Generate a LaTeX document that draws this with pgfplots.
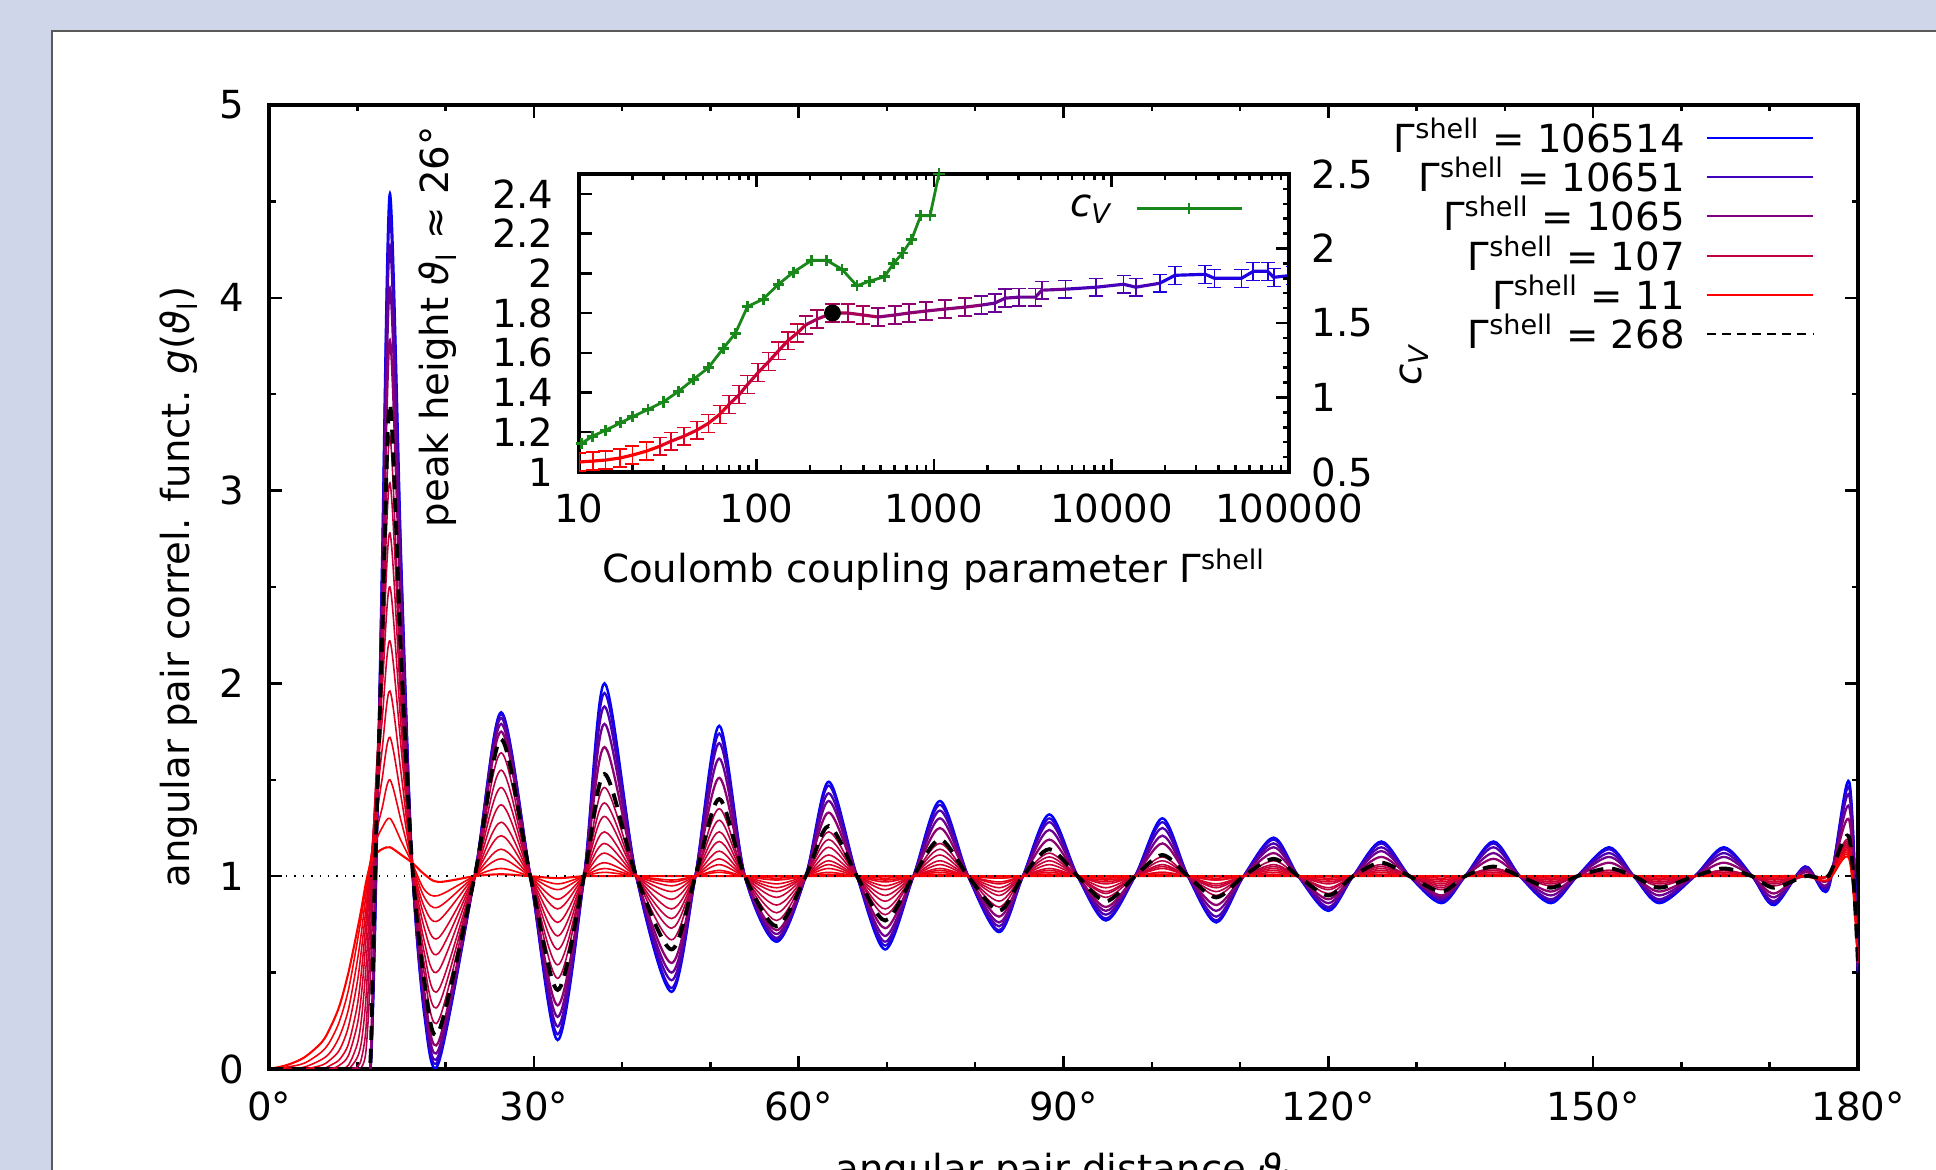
\documentclass[border=0pt]{standalone}
\usepackage{pgfplots}
\pgfplotsset{compat=1.18}
\usepackage{pgfplotstable}
\usepackage{fontspec}
\setmainfont{DejaVu Sans}
\definecolor{bgc}{RGB}{208,214,234}
\definecolor{panelc}{RGB}{90,90,90}
\definecolor{cvgreen}{RGB}{25,135,25}

\pgfplotstableread{
x     L1   L2   L3   L4   L5   L6   L7   L8   L9   L10  C1   C2   C3   C4   U    B
0     0    0    0    0    0    0    0    0    0    0    0    0    0    0    0    0
2     0.02 0.01 0    0    0    0    0    0    0    0    0    0    0    0    0    0
4     0.06 0.03 0.01 0    0    0    0    0    0    0    0    0    0    0    0    0
6     0.14 0.09 0.05 0.02 0    0    0    0    0    0    0    0    0    0    0    0
7     0.22 0.15 0.09 0.05 0.02 0    0    0    0    0    0    0    0    0    0    0
8     0.33 0.25 0.17 0.10 0.05 0.02 0    0    0    0    0    0    0    0    0    0
9     0.50 0.41 0.31 0.22 0.13 0.07 0.02 0    0    0    0    0    0    0    0    0
10    0.72 0.66 0.56 0.45 0.33 0.23 0.13 0.06 0.01 0    0    0    0    0    0    0
10.5  0.84 0.80 0.72 0.63 0.52 0.40 0.27 0.15 0.06 0.01 0    0    0    0    0    0
11    0.97 0.96 0.91 0.84 0.77 0.68 0.54 0.38 0.22 0.10 0    0    0    0    0    0
11.5  1.06 1.08 1.08 1.07 1.05 1.02 0.94 0.85 0.69 0.50 0.04 0.02 0.01 0    0    0.05
12    1.11 1.17 1.20 1.25 1.30 1.35 1.38 1.40 1.35 1.20 0.91 0.84 0.78 0.73 0.70 1.00
12.8  1.14 1.25 1.35 1.50 1.65 1.80 1.95 2.05 2.15 2.20 2.32 2.42 2.50 2.56 2.60 2.20
13.7  1.15 1.30 1.50 1.72 1.96 2.22 2.50 2.78 3.04 3.28 3.78 4.05 4.27 4.43 4.54 3.45
15    1.11 1.18 1.28 1.40 1.52 1.65 1.75 1.85 1.95 2.00 2.25 2.38 2.48 2.55 2.60 2.10
16.2  1.07 1.07 1.07 1.07 1.07 1.07 1.07 1.07 1.07 1.07 1.07 1.07 1.07 1.07 1.07 1.07
17.6  1.01 0.93 0.89 0.84 0.79 0.73 0.66 0.60 0.54 0.49 0.40 0.36 0.32 0.30 0.28 0.45
19.2  0.97 0.90 0.84 0.77 0.68 0.60 0.51 0.41 0.33 0.25 0.14 0.10 0.07 0.05 0.03 0.19
23.3  1    1    1    1    1    1    1    1    1    1    1    1    1    1    1    1
26.3  1.01 1.04 1.09 1.14 1.21 1.28 1.37 1.46 1.55 1.64 1.75 1.79 1.82 1.84 1.85 1.71
29.6  1    1    1    1    1    1    1    1    1    1    1    1    1    1    1    1
32.7  0.99 0.96 0.93 0.88 0.83 0.76 0.69 0.62 0.54 0.47 0.33 0.27 0.22 0.18 0.15 0.41
35.7  1    1    1    1    1    1    1    1    1    1    1    1    1    1    1    1
38.0  1    1.02 1.04 1.07 1.12 1.17 1.23 1.31 1.38 1.46 1.67 1.79 1.88 1.95 2.00 1.53
41.6  1    1    1    1    1    1    1    1    1    1    1    1    1    1    1    1
45.6  1    0.98 0.97 0.95 0.92 0.88 0.83 0.78 0.73 0.67 0.55 0.50 0.46 0.42 0.40 0.62
48.3  1    1    1    1    1    1    1    1    1    1    1    1    1    1    1    1
51.0  1    1.02 1.03 1.06 1.09 1.13 1.18 1.23 1.29 1.35 1.51 1.61 1.69 1.74 1.78 1.40
53.9  1    1    1    1    1    1    1    1    1    1    1    1    1    1    1    1
57.5  1    0.99 0.98 0.96 0.94 0.92 0.89 0.85 0.81 0.77 0.72 0.70 0.68 0.67 0.66 0.74
60.8  1    1    1    1    1    1    1    1    1    1    1    1    1    1    1    1
63.4  1    1.01 1.02 1.04 1.06 1.08 1.11 1.15 1.19 1.23 1.33 1.39 1.43 1.47 1.49 1.26
66.6  1    1    1    1    1    1    1    1    1    1    1    1    1    1    1    1
69.8  1    0.99 0.98 0.97 0.95 0.93 0.90 0.87 0.83 0.80 0.73 0.69 0.66 0.64 0.62 0.77
73.0  1    1    1    1    1    1    1    1    1    1    1    1    1    1    1    1
76.0  1    1.01 1.02 1.03 1.04 1.06 1.08 1.11 1.14 1.17 1.25 1.30 1.34 1.37 1.39 1.19
79.2  1    1    1    1    1    1    1    1    1    1    1    1    1    1    1    1
82.7  1    0.99 0.99 0.97 0.96 0.94 0.92 0.90 0.87 0.84 0.79 0.76 0.74 0.72 0.71 0.82
85.4  1    1    1    1    1    1    1    1    1    1    1    1    1    1    1    1
88.4  1    1.01 1.01 1.02 1.03 1.04 1.06 1.08 1.10 1.12 1.19 1.24 1.28 1.30 1.32 1.14
91.6  1    1    1    1    1    1    1    1    1    1    1    1    1    1    1    1
94.8  1    0.99 0.99 0.98 0.97 0.96 0.94 0.92 0.91 0.89 0.84 0.82 0.80 0.78 0.77 0.87
98.1  1    1    1    1    1    1    1    1    1    1    1    1    1    1    1    1
101.2 1    1.01 1.01 1.02 1.02 1.04 1.05 1.06 1.08 1.10 1.17 1.21 1.25 1.28 1.30 1.11
104.1 1    1    1    1    1    1    1    1    1    1    1    1    1    1    1    1
107.3 1    1    0.99 0.98 0.98 0.96 0.95 0.94 0.92 0.90 0.85 0.82 0.79 0.77 0.76 0.89
110.4 1    1    1    1    1    1    1    1    1    1    1    1    1    1    1    1
113.8 1    1    1    1.01 1.02 1.03 1.04 1.05 1.06 1.08 1.12 1.15 1.17 1.19 1.20 1.09
116.6 1    1    1    1    1    1    1    1    1    1    1    1    1    1    1    1
120.0 1    1    1    0.99 0.98 0.97 0.96 0.94 0.93 0.91 0.88 0.86 0.84 0.83 0.82 0.90
122.8 1    1    1    1    1    1    1    1    1    1    1    1    1    1    1    1
126.0 1    1    1    1.01 1.02 1.02 1.03 1.04 1.05 1.06 1.10 1.13 1.15 1.17 1.18 1.07
129.2 1    1    1    1    1    1    1    1    1    1    1    1    1    1    1    1
132.8 1    1    1    0.99 0.98 0.97 0.96 0.95 0.94 0.93 0.90 0.89 0.88 0.87 0.86 0.92
135.5 1    1    1    1    1    1    1    1    1    1    1    1    1    1    1    1
138.7 1    1    1    1.01 1.01 1.02 1.02 1.03 1.04 1.04 1.09 1.12 1.15 1.17 1.18 1.05
141.7 1    1    1    1    1    1    1    1    1    1    1    1    1    1    1    1
145.2 1    1    1    0.99 0.99 0.98 0.97 0.97 0.96 0.95 0.92 0.90 0.88 0.87 0.86 0.94
148.2 1    1    1    1    1    1    1    1    1    1    1    1    1    1    1    1
151.8 1    1    1    1.01 1.01 1.01 1.02 1.02 1.03 1.03 1.07 1.10 1.12 1.14 1.15 1.04
154.6 1    1    1    1    1    1    1    1    1    1    1    1    1    1    1    1
157.5 1    1    1    0.99 0.99 0.98 0.97 0.97 0.96 0.95 0.92 0.90 0.88 0.87 0.86 0.94
161.5 1    1    1    1    1    1    1    1    1    1    1    1    1    1    1    1
164.8 1    1    1    1.01 1.01 1.01 1.02 1.02 1.03 1.03 1.07 1.10 1.12 1.14 1.15 1.04
168.0 1    1    1    1    1    1    1    1    1    1    1    1    1    1    1    1
170.5 1    1    1    0.99 0.99 0.98 0.97 0.97 0.96 0.95 0.91 0.89 0.87 0.86 0.85 0.94
174.0 1    1    1    1    1    1    1    1    1    1    1.02 1.03 1.04 1.05 1.05 1.00
176.6 0.98 1    1    1    1    1    1    1    1    1    0.98 0.96 0.95 0.94 0.93 1.00
179.0 1.09 1.10 1.11 1.12 1.13 1.14 1.15 1.16 1.17 1.18 1.29 1.36 1.42 1.46 1.49 1.20
180   0.55 0.55 0.55 0.55 0.55 0.55 0.55 0.55 0.55 0.55 0.53 0.52 0.51 0.50 0.50 0.54
}\gdata

\pgfplotsset{
  fam/.style={smooth, line width=0.45pt, forget plot},
  cry/.style={smooth, line width=0.65pt, forget plot},
  seg/.style={line width=0.9pt, forget plot,
     error bars/y dir=both, error bars/y fixed=0.045,
     error bars/error bar style={line width=0.5pt}},
}

\begin{document}
\begin{tikzpicture}[font=\fontsize{11}{13}\selectfont]
\path[use as bounding box] (0,0) rectangle (193.6mm,117mm);
\clip (0,0) rectangle (193.6mm,117mm);
\fill[bgc] (0,0) rectangle (193.6mm,117mm);
\fill[white] (5.2mm,-5mm) rectangle (200mm,113.9mm);
\draw[panelc, line width=0.25mm] (5.2mm,-5mm) -- (5.2mm,113.9mm) -- (200mm,113.9mm);

% ---------------- main axis ----------------
\begin{axis}[
  at={(26.9mm,10.1mm)}, anchor=south west,
  scale only axis, width=158.9mm, height=96.4mm,
  font=\fontsize{11}{13}\selectfont,
  xmin=0, xmax=180, ymin=0, ymax=5,
  xtick={0,30,60,90,120,150,180},
  xticklabels={0°,30°,60°,90°,120°,150°,180°},
  minor x tick num=2,
  ytick={0,1,2,3,4,5}, minor y tick num=1,
  /pgf/number format/assume math mode=true,
  tick align=inside, major tick length=1.3mm, minor tick length=0.65mm,
  axis line style={line width=0.9pt},
  every tick/.append style={black, line width=0.7pt},
  tick label style={font=\fontsize{11}{13}\selectfont},
  xticklabel style={yshift=-1mm},
  yticklabel style={xshift=-1.2mm},
  xlabel={angular pair distance \textit{ϑ}\textsubscript{l}},
  xlabel style={at={(axis description cs:0.5,0)}, anchor=base, yshift=-11.4mm},
  ylabel={angular pair correl. funct. \textit{g}(\textit{ϑ}\textsubscript{l})},
  ylabel style={at={(axis description cs:0,0.5)}, anchor=center, yshift=9mm},
  legend style={draw=none, fill=none, at={(0.9793,0.9947)}, anchor=north east,
     font=\fontsize{11}{13}\selectfont, row sep=-0.05mm, column sep=1.4mm,
     nodes={inner ysep=0pt}},
  legend cell align=right, legend plot pos=right,
  legend image code/.code={\draw[#1] (0mm,0mm) -- (10.6mm,0mm);},
]
\addlegendimage{blue, line width=0.6pt}
\addlegendentry{Γ\textsuperscript{shell} = 106514}
\addlegendimage{blue!75!red, line width=0.6pt}
\addlegendentry{Γ\textsuperscript{shell} = 10651}
\addlegendimage{blue!50!red, line width=0.6pt}
\addlegendentry{Γ\textsuperscript{shell} = 1065}
\addlegendimage{blue!25!red, line width=0.6pt}
\addlegendentry{Γ\textsuperscript{shell} = 107}
\addlegendimage{red, line width=0.6pt}
\addlegendentry{Γ\textsuperscript{shell} = 11}
\addlegendimage{black, line width=0.6pt, dash pattern=on 2.5pt off 1.8pt}
\addlegendentry{Γ\textsuperscript{shell} = 268}

\addplot[cry, color=blue, line width=0.7pt] table[x=x, y=U] {\gdata};
\addplot[cry, color=blue!84!red] table[x=x, y=C4] {\gdata};
\addplot[cry, color=blue!70!red] table[x=x, y=C3] {\gdata};
\addplot[cry, color=blue!57!red] table[x=x, y=C2] {\gdata};
\addplot[cry, color=blue!44!red] table[x=x, y=C1] {\gdata};
\addplot[fam, color=blue!30!red] table[x=x, y=L10] {\gdata};
\addplot[fam, color=blue!27!red] table[x=x, y=L9] {\gdata};
\addplot[fam, color=blue!23!red] table[x=x, y=L8] {\gdata};
\addplot[fam, color=blue!20!red] table[x=x, y=L7] {\gdata};
\addplot[fam, color=blue!17!red] table[x=x, y=L6] {\gdata};
\addplot[fam, color=blue!13!red] table[x=x, y=L5] {\gdata};
\addplot[fam, color=blue!10!red] table[x=x, y=L4] {\gdata};
\addplot[fam, color=blue!7!red] table[x=x, y=L3] {\gdata};
\addplot[fam, color=blue!3!red] table[x=x, y=L2] {\gdata};
\addplot[fam, color=red, line width=0.6pt] table[x=x, y=L1] {\gdata};
\addplot[black, dotted, line width=0.4pt, forget plot] coordinates {(0,1) (180,1)};
\addplot[smooth, black, line width=1.1pt, dash pattern=on 4pt off 2.5pt, forget plot] table[x=x, y=B] {\gdata};
\end{axis}

% ---------------- inset: peak height ----------------
\begin{axis}[
  at={(57.9mm,69.8mm)}, anchor=south west,
  scale only axis, width=71mm, height=29.8mm,
  font=\fontsize{11}{13}\selectfont,
  xmode=log, xmin=10, xmax=100000, ymin=1, ymax=2.5,
  xtick={10,100,1000,10000,100000},
  xticklabels={10,100,1000,10000,100000},
  minor xtick={20,30,40,50,60,70,80,90,200,300,400,500,600,700,800,900,2000,3000,4000,5000,6000,7000,8000,9000,20000,30000,40000,50000,60000,70000,80000,90000},
  ytick={1,1.2,1.4,1.6,1.8,2,2.2,2.4},
  yticklabels={1,1.2,1.4,1.6,1.8,2,2.2,2.4},
  ytick pos=left,
  tick align=inside, major tick length=1.3mm, minor tick length=0.65mm,
  axis line style={line width=0.9pt},
  every tick/.append style={black, line width=0.7pt},
  tick label style={font=\fontsize{11}{13}\selectfont},
  xticklabel style={yshift=-0.9mm},
  yticklabel style={xshift=-1.3mm},
  xlabel={Coulomb coupling parameter Γ\textsuperscript{shell}},
  xlabel style={at={(axis description cs:0.5,0)}, anchor=base, yshift=-11.1mm},
  ylabel={peak height \textit{ϑ}\textsubscript{l} ≈ 26°},
  ylabel style={at={(axis description cs:0,0.487)}, anchor=center, yshift=14.1mm},
]
\addplot[seg, color=red] coordinates {(10,1.05)(12,1.055)(14.1,1.06)(17,1.07)(20,1.085)(24,1.105)(28.6,1.13)};
\addplot[seg, color=blue!12!red] coordinates {(28.6,1.13)(33,1.155)(39,1.18)(46,1.21)(53.6,1.245)(62,1.29)(70,1.34)};
\addplot[seg, color=blue!22!red] coordinates {(70,1.34)(80,1.39)(89,1.44)(102,1.50)(117,1.555)(133,1.61)(150,1.66)(170,1.70)(189,1.74)};
\addplot[seg, color=blue!35!red] coordinates {(189,1.74)(220,1.77)(268,1.80)(327,1.80)(400,1.79)(483,1.78)};
\addplot[seg, color=blue!45!red] coordinates {(483,1.78)(600,1.79)(720,1.80)(900,1.81)(1150,1.82)(1500,1.83)(1850,1.84)};
\addplot[seg, color=blue!58!red] coordinates {(1850,1.84)(2200,1.85)(2520,1.875)(3000,1.88)(3730,1.88)(4050,1.915)(5500,1.92)};
\addplot[seg, color=blue!72!red] coordinates {(5500,1.92)(8200,1.93)(11700,1.945)(13700,1.93)(18700,1.95)};
\addplot[seg, color=blue!88!red] coordinates {(18700,1.95)(22800,1.99)(33800,1.995)(38000,1.975)(54000,1.975)(63000,2.01)(76000,2.01)(82000,1.98)(105000,1.99)};
\addplot[only marks, mark=*, black, mark size=2.2pt, forget plot] coordinates {(268,1.80)};
\end{axis}

% ---------------- inset: c_V (right axis) ----------------
\begin{axis}[
  at={(57.9mm,69.8mm)}, anchor=south west,
  scale only axis, width=71mm, height=29.8mm,
  font=\fontsize{11}{13}\selectfont,
  xmode=log, xmin=10, xmax=100000, ymin=0.5, ymax=2.5,
  axis x line=none, axis y line*=right,
  ytick={0.5,1,1.5,2,2.5}, yticklabels={0.5,1,1.5,2,2.5},
  minor y tick num=4,
  tick align=inside, major tick length=1.3mm, minor tick length=0.65mm,
  axis line style={line width=0.9pt},
  every tick/.append style={black, line width=0.7pt},
  tick label style={font=\fontsize{11}{13}\selectfont},
  yticklabel style={xshift=1.0mm},
  ylabel={\textit{c}\textsubscript{\textit{V}}},
  ylabel style={at={(axis description cs:1,0.362)}, anchor=center, yshift=-12.5mm},
  legend style={draw=none, fill=none, at={(0.951,0.955)}, anchor=north east,
     font=\fontsize{11}{13}\selectfont, column sep=1.5mm, nodes={inner ysep=0pt}},
  legend plot pos=right,
  legend image code/.code={\draw[mark repeat=2, mark phase=2, #1] plot coordinates {(0mm,0mm) (5.25mm,0mm) (10.5mm,0mm)};},
]
\addplot[cvgreen, line width=0.8pt, mark=+, mark size=1.6pt] coordinates {
(10.3,0.69)(11.9,0.74)(14.1,0.78)(17.2,0.83)(20,0.87)(24.5,0.92)(29.8,0.97)(36.3,1.04)(44,1.12)(53.6,1.20)(65,1.33)(76,1.43)(89,1.61)(109,1.66)(133,1.76)(161,1.84)(204,1.92)(249,1.92)(303,1.86)(368,1.75)(432,1.78)(526,1.81)(592,1.90)(666,1.97)(748,2.06)(842,2.22)(950,2.22)(1066,2.50)(1100,2.6)};
\addlegendentry{\textit{c}\textsubscript{\textit{V}}}
\end{axis}
\end{tikzpicture}
\end{document}
